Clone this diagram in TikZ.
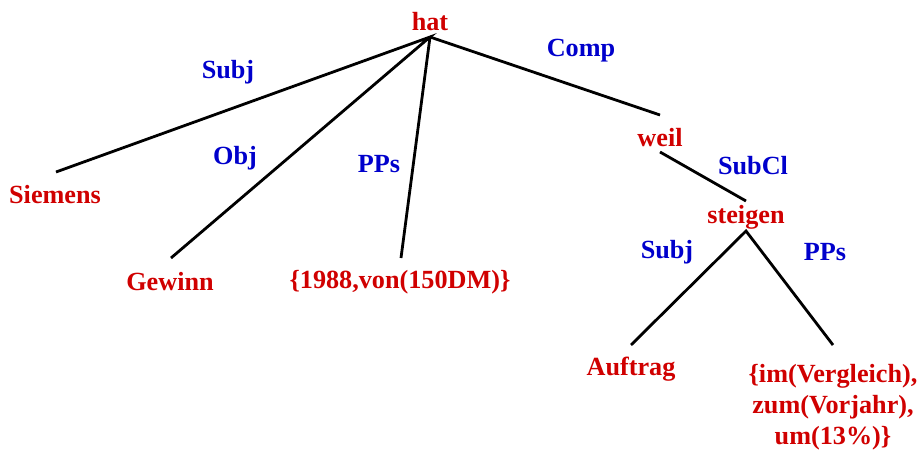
\documentclass[tikz,border=0pt]{standalone}
\usepackage{fontspec}
\setmainfont{Liberation Serif}
\definecolor{wred}{RGB}{208,0,0}
\definecolor{lblue}{RGB}{0,0,204}
\begin{document}
\begin{tikzpicture}[x=1pt,y=-1pt,
  word/.style={text=wred,font=\bfseries\fontsize{26.2}{31}\selectfont,inner sep=0pt,align=center},
  rel/.style={text=lblue,font=\bfseries\fontsize{26.2}{31}\selectfont,inner sep=0pt},
  edge/.style={draw=black,line width=2.8pt}]
\useasboundingbox (0,0) rectangle (921,450);
% words
\node[word] (hat) at (430,22) {hat};
\node[word] (siemens) at (55,195) {Siemens};
\node[word] (gewinn) at (170,282) {Gewinn};
\node[word] (pps1) at (400,282) {\{1988,von(150DM)\}};
\node[word] (weil) at (660,138) {weil};
\node[word] (steigen) at (746,217) {steigen};
\node[word] (auftrag) at (631,369) {Auftrag};
\node[word] (pps2) at (833,407) {\{im(Vergleich),\\zum(Vorjahr),\\um(13\%)\}};
% relation labels
\node[rel] (lsubj) at (228,72) {Subj};
\node[rel] (lobj) at (235,158) {Obj};
\node[rel] (lpps) at (379,164) {PPs};
\node[rel] (lcomp) at (581,51) {Comp};
\node[rel] (lsubcl) at (753,166) {SubCl};
\node[rel] (lsubj2) at (667,252) {Subj};
\node[rel] (lpps2) at (825,252) {PPs};
% attachment points
\coordinate (hatB) at (430,37);
\coordinate (siemensT) at (56,172);
\coordinate (gewinnT) at (171,258);
\coordinate (pps1T) at (401,258);
\coordinate (weilT) at (660,115);
\coordinate (weilB) at (660,152);
\coordinate (steigenT) at (746,201);
\coordinate (steigenB) at (746,231);
\coordinate (auftragT) at (631,345);
\coordinate (pps2T) at (833,345);
% edges
\draw[edge] (siemensT) -- (hatB) -- (gewinnT);
\draw[edge] (hatB) -- (pps1T);
\draw[edge] (hatB) -- (weilT);
\draw[edge] (weilB) -- (steigenT);
\draw[edge] (auftragT) -- (steigenB) -- (pps2T);
\end{tikzpicture}
\end{document}
